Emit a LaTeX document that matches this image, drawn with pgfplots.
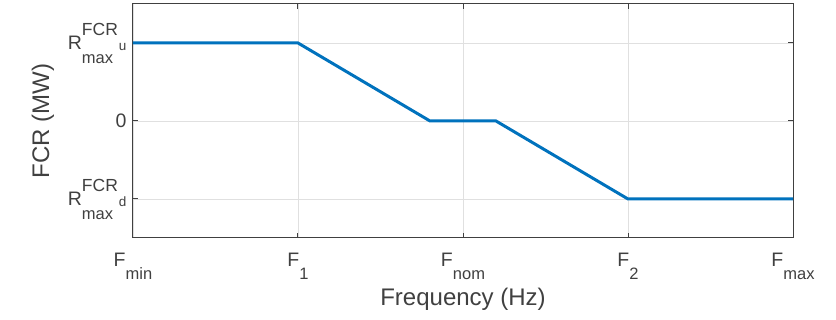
\documentclass[border=0pt]{standalone}
\usepackage{fontspec}
\setmainfont{Liberation Sans}
\usepackage{pgfplots}
\pgfplotsset{compat=1.18}
\definecolor{mblue}{RGB}{0,114,189}
\definecolor{axgray}{RGB}{64,64,64}
\newcommand\Fsub[1]{F\raisebox{-13pt}{\fontsize{16.5}{18}\selectfont #1}}
\newcommand\Rlab[1]{R\rlap{\raisebox{-14pt}{\fontsize{16.5}{18}\selectfont max}}\raisebox{14pt}{\fontsize{17.5}{19}\selectfont FCR\kern1pt\raisebox{-15pt}{\fontsize{13.5}{15}\selectfont #1}}}
\begin{document}
\begin{tikzpicture}
\begin{axis}[
  at={(0pt,0pt)}, anchor=south west,
  scale only axis, width=660pt, height=234pt,
  xmin=0, xmax=4, ymin=-1.5, ymax=1.5,
  xtick={0,1,2,3,4},
  xticklabels={\Fsub{min},\Fsub{1},\Fsub{nom},\Fsub{2},\Fsub{max}},
  ytick={-1,0,1},
  yticklabels={\Rlab{d},0,\Rlab{u}},
  tick align=inside, major tick length=5pt,
  grid=major, major grid style={draw=black!12, line width=0.8pt},
  axis line style={draw=axgray, line width=1pt},
  tick style={draw=axgray, line width=1pt},
  ticklabel style={font=\fontsize{19.5}{22}\selectfont, text=axgray},
  xticklabel style={yshift=-12pt},
  yticklabel style={xshift=-3pt},
  xlabel={Frequency (Hz)}, ylabel={FCR (MW)},
  label style={font=\fontsize{24}{28}\selectfont, text=axgray},
  xlabel style={at={(axis description cs:0.5,-0.26)}, anchor=center},
  ylabel style={at={(axis description cs:-0.1364,0.5)}, anchor=center},
]
\addplot[color=mblue, line width=3pt] coordinates {(0,1) (1,1) (1.8,0) (2.2,0) (3,-1) (4,-1)};
\end{axis}
\pgfresetboundingbox
\path[use as bounding box] (-133pt,-82pt) rectangle (703pt,238pt);
\end{tikzpicture}
\end{document}
